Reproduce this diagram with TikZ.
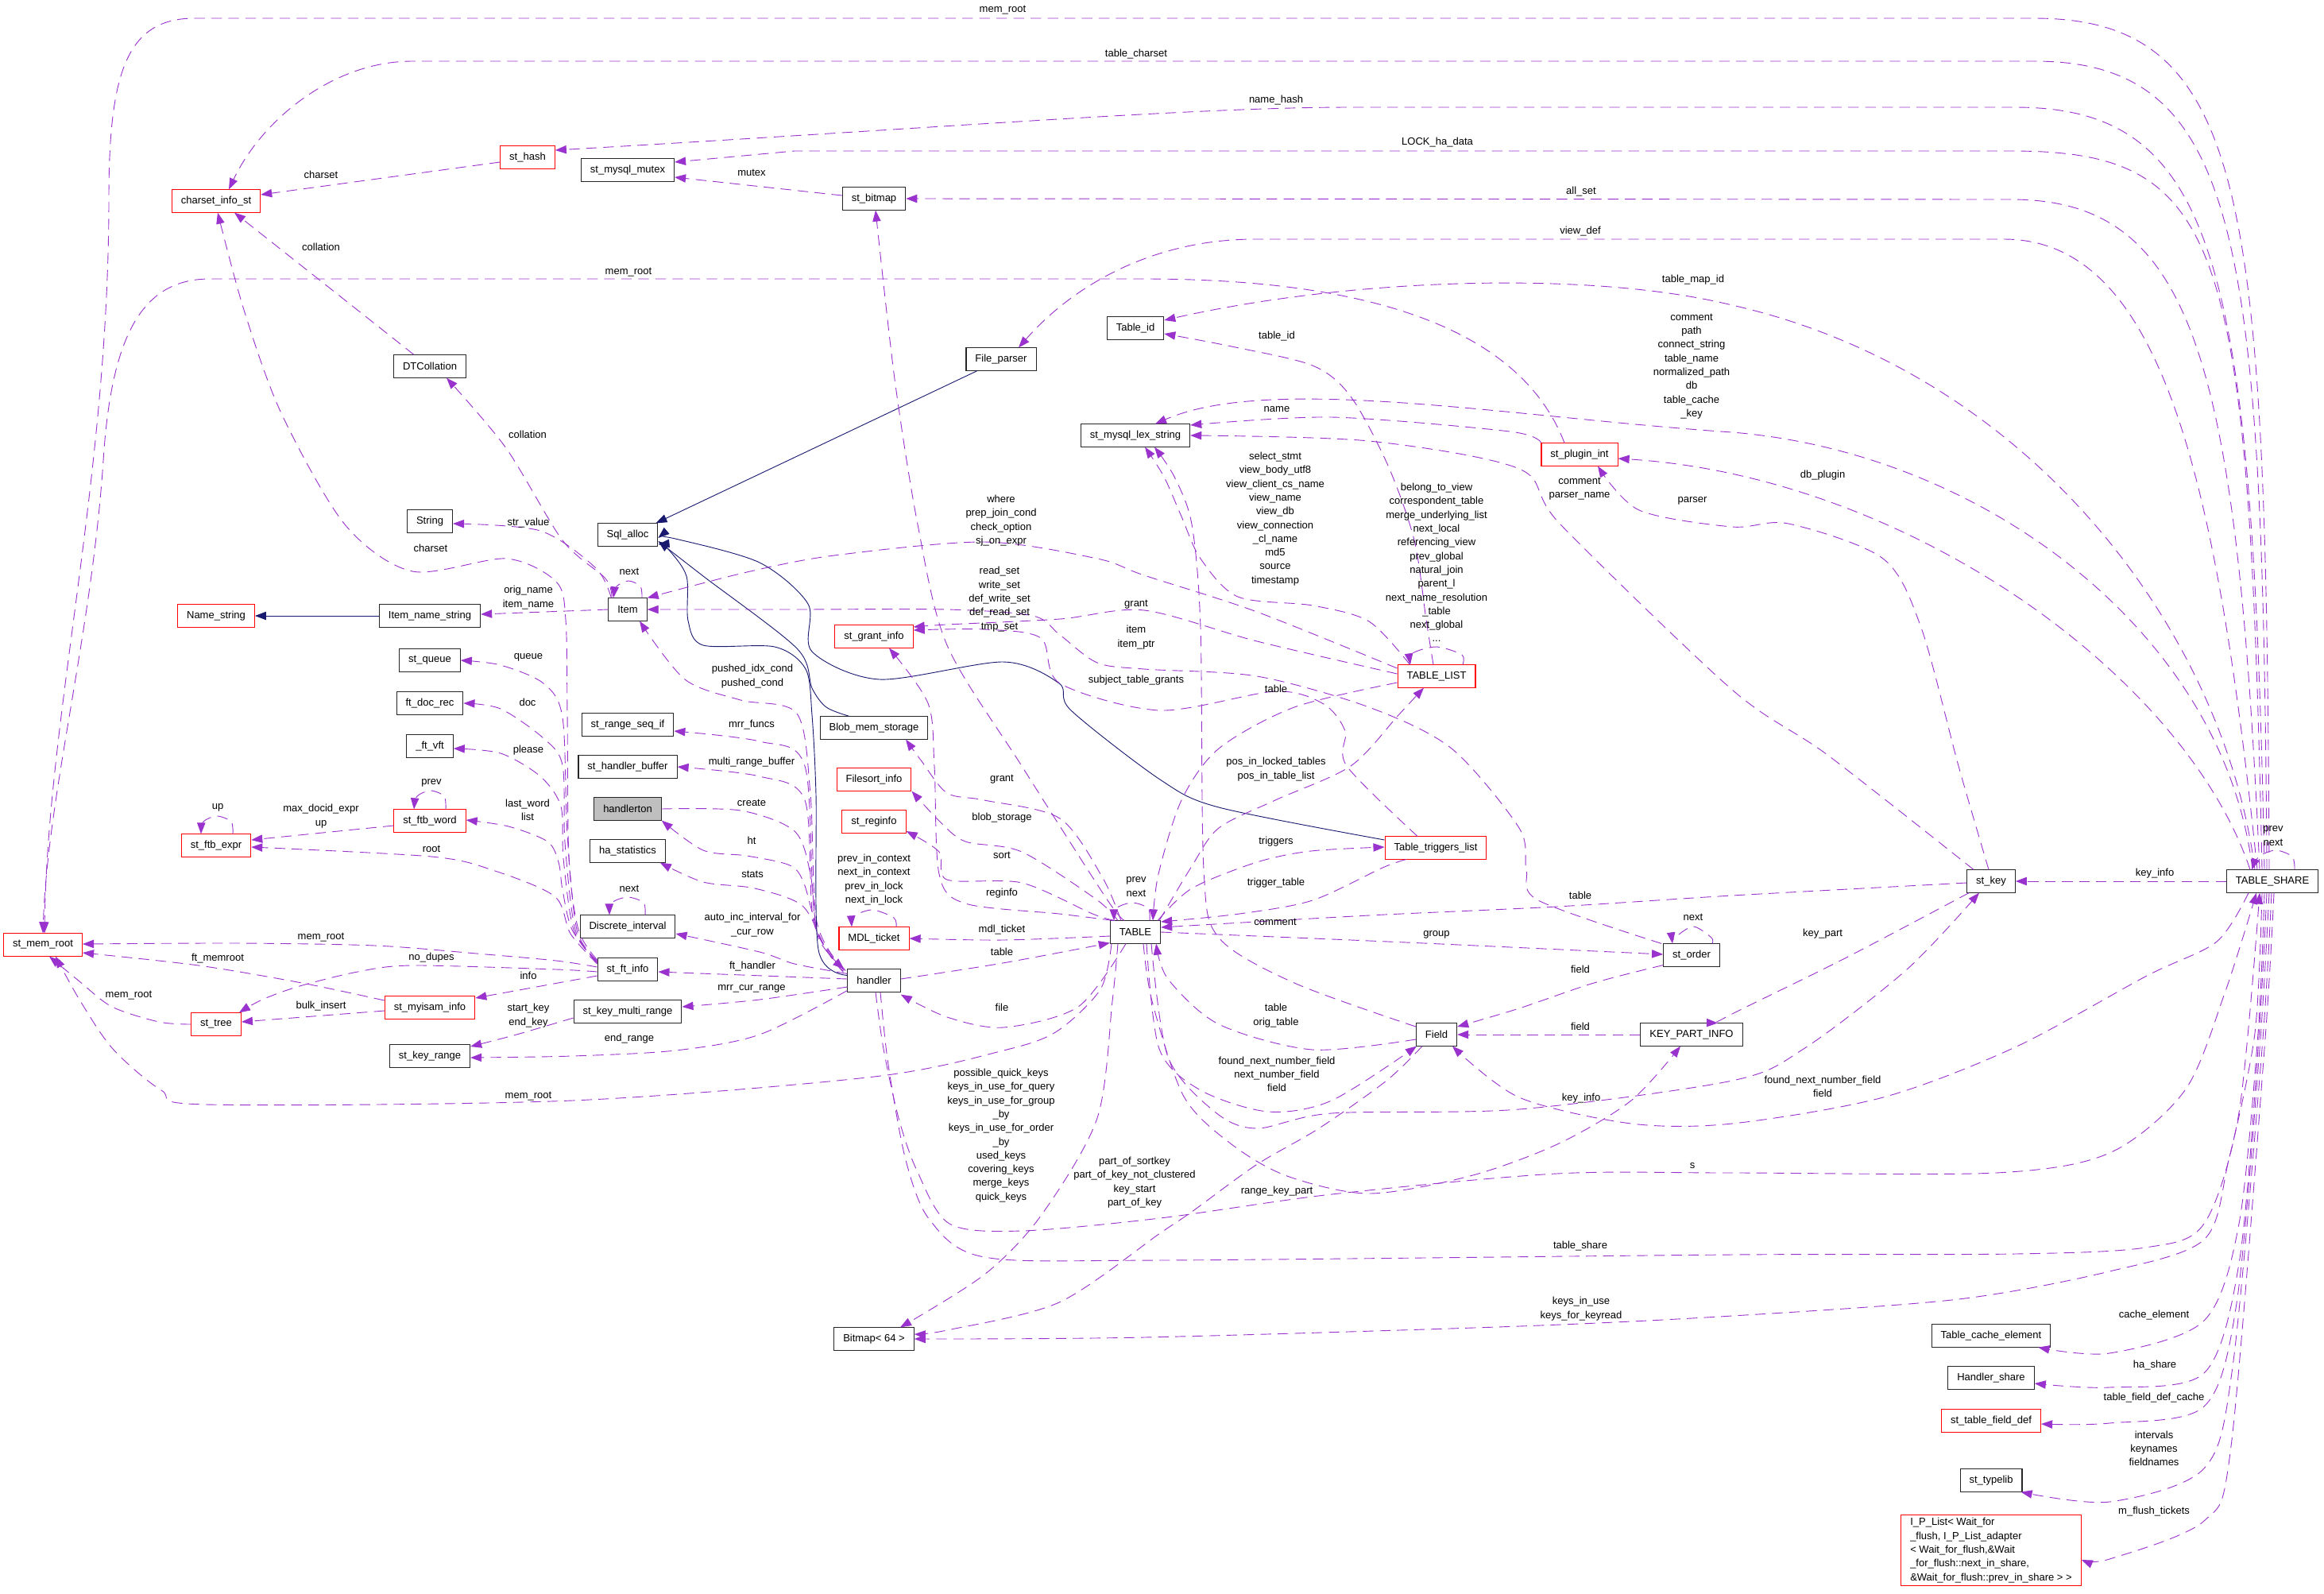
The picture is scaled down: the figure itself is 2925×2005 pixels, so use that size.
\documentclass[tikz,border=0pt]{standalone}
\usepackage{fontspec}
\setmainfont{Liberation Sans}
\usetikzlibrary{arrows.meta,calc}
\definecolor{usecol}{HTML}{9A32CD}
\definecolor{inhcol}{HTML}{191970}
\definecolor{boxgray}{HTML}{BFBFBF}
\tikzset{
  cls/.style={draw=black!85, fill=white, line width=0.8pt, inner xsep=3.1mm, inner ysep=1mm, minimum height=7.6mm, font=\fontsize{10}{13.3}\selectfont},
  clsred/.style={cls, draw=red},
  lbl/.style={inner sep=0pt, align=center, font=\fontsize{10}{13.3}\selectfont},
  memb/.style={draw=usecol, line width=0.7pt, dash pattern=on 3.6mm off 2.2mm, -{Triangle[length=3.8mm,width=2.8mm]}},
  isa/.style={draw=inhcol, line width=0.7pt, -{Triangle[length=3.8mm,width=2.8mm]}},
}
\begin{document}
\begin{tikzpicture}[x=0.27mm, y=-0.27mm]
\useasboundingbox (0,0) rectangle (2925,2005);
\node[clsred] (cs) at (272,253) {charset\_info\_st};
\node[clsred] (hash) at (664,198) {st\_hash};
\node[cls] (dtc) at (541,461) {DTCollation};
\node[cls] (str) at (541,656) {String};
\node[cls] (mutex) at (790,214) {st\_mysql\_mutex};
\node[cls] (bitmap) at (1100,250) {st\_bitmap};
\node[cls] (fparser) at (1260,452) {File\_parser};
\node[cls] (tid) at (1429,413) {Table\_id};
\node[cls] (lex) at (1429,548) {st\_mysql\_lex\_string};
\node[clsred] (plugin) at (1988,572) {st\_plugin\_int};
\node[cls] (sqla) at (790,673) {Sql\_alloc};
\node[clsred] (namestr) at (272,775) {Name\_string};
\node[cls] (ins) at (541,775) {Item\_name\_string};
\node[cls] (item) at (790,767) {Item};
\node[clsred] (grant) at (1100,801) {st\_grant\_info};
\node[clsred] (tlist) at (1808,851) {TABLE\_LIST};
\node[cls] (queue) at (541,831) {st\_queue};
\node[cls] (docrec) at (541,885) {ft\_doc\_rec};
\node[cls] (vft) at (541,939) {\_ft\_vft};
\node[cls] (seqif) at (790,912) {st\_range\_seq\_if};
\node[cls] (blob) at (1100,916) {Blob\_mem\_storage};
\node[cls] (hbuf) at (790,965) {st\_handler\_buffer};
\node[clsred] (fsort) at (1100,981) {Filesort\_info};
\node[cls, fill=boxgray] (hton) at (790,1018) {handlerton};
\node[clsred] (reginfo) at (1100,1034) {st\_reginfo};
\node[clsred] (ftbword) at (541,1033) {st\_ftb\_word};
\node[clsred] (ftbexpr) at (272,1064) {st\_ftb\_expr};
\node[cls] (hastat) at (790,1071) {ha\_statistics};
\node[clsred] (trig) at (1807,1067) {Table\_triggers\_list};
\node[cls] (dint) at (790,1166) {Discrete\_interval};
\node[clsred] (mdl) at (1100,1181) {MDL\_ticket};
\node[cls] (tbl) at (1429,1173) {TABLE};
\node[cls] (stkey) at (2506,1109) {st\_key};
\node[cls] (share) at (2860,1109) {TABLE\_SHARE};
\node[cls] (order) at (2129,1202) {st\_order};
\node[clsred] (memroot) at (54,1189) {st\_mem\_root};
\node[cls] (ftinfo) at (790,1220) {st\_ft\_info};
\node[cls] (handler) at (1100,1234) {handler};
\node[clsred] (myisam) at (541,1268) {st\_myisam\_info};
\node[clsred] (tree) at (272,1289) {st\_tree};
\node[cls] (kmr) at (790,1273) {st\_key\_multi\_range};
\node[cls] (field) at (1808,1302) {Field};
\node[cls] (kpi) at (2129,1302) {KEY\_PART\_INFO};
\node[cls] (krange) at (541,1329) {st\_key\_range};
\node[cls] (bmp) at (1100,1685) {Bitmap< 64 >};
\node[cls] (tce) at (2506,1681) {Table\_cache\_element};
\node[cls] (hshare) at (2506,1734) {Handler\_share};
\node[clsred] (tfd) at (2506,1788) {st\_table\_field\_def};
\node[cls] (typelib) at (2506,1863) {st\_typelib};
\node[clsred, align=left] (iplist) at (2506,1951) {I\_P\_List< Wait\_for\\\_flush, I\_P\_List\_adapter\\< Wait\_for\_flush,\&Wait\\\_for\_flush::next\_in\_share,\\\&Wait\_for\_flush::prev\_in\_share > >};

\draw[memb] ($(share.north)+(-4,0)$) .. controls (2852,250) and (2830,23) .. (2560,23) -- (245,23) .. controls (160,23) and (137,90) .. (137,250) .. controls (137,600) and (60,900) .. ($(memroot.north)+(2,0)$);
\draw[memb] ($(share.north)+(-7,0)$) .. controls (2848,300) and (2820,77) .. (2560,77) -- (519,77) .. controls (420,77) and (330,150) .. ($(cs.north)+(16,0)$);
\draw[memb] ($(share.north)+(-10,0)$) .. controls (2835,330) and (2790,135) .. (2536,135) -- (1700,135) .. controls (1500,135) and (1200,160) .. ($(hash.east)+(0,-9)$);
\draw[memb] ($(share.north)+(-13,0)$) .. controls (2830,300) and (2800,190) .. (2531,190) -- (1000,190) -- ($(mutex.east)+(0,-10)$);
\draw[memb] ($(share.north)+(-16,0)$) .. controls (2815,450) and (2760,251) .. (2531,251) -- (bitmap.east);
\draw[memb] ($(share.north)+(-19,0)$) .. controls (2790,600) and (2720,301) .. (2522,301) -- (1580,301) .. controls (1450,301) and (1350,360) .. ($(fparser.north)+(22,0)$);
\draw[memb] ($(share.north)+(-22,0)$) .. controls (2800,800) and (2560,470) .. (2180,384) .. controls (2000,340) and (1700,350) .. ($(tid.east)+(0,-10)$);
\draw[memb] ($(share.north)+(-25,0)$) .. controls (2800,800) and (2500,570) .. (2180,544) .. controls (1900,525) and (1600,470) .. ($(lex.north)+(25,0)$);
\draw[memb] ($(share.north)+(-28,0)$) .. controls (2750,850) and (2400,600) .. ($(plugin.east)+(0,5)$);
\draw[memb] plot[smooth] coordinates {($(share.north)+(28,0)$) (2885,1078) (2864,1070) (2843,1078) ($(share.north)+(-26,0)$)};
\draw[memb] (share) -- (stkey);
\draw[memb] plot[smooth] coordinates {($(share.south)+(-30,0)$) (2790,1185) (2702,1228) (2536,1318) (2370,1381) (2180,1414) (2053,1414) (1912,1381) ($(field.south)+(20,0)$)};
\draw[memb] plot[smooth] coordinates {($(share.south)+(-10,0)$) (2842,1300) (2818,1540) (2774,1662) (2655,1703) ($(tce.south east)+(-16,0)$)};
\draw[memb] plot[smooth] coordinates {($(share.south)+(-7,0)$) (2842,1320) (2818,1590) (2774,1728) (2655,1746) ($(hshare.east)+(0,7)$)};
\draw[memb] plot[smooth] coordinates {($(share.south)+(-4,0)$) (2844,1320) (2815,1640) (2774,1770) (2655,1791) ($(tfd.east)+(0,4)$)};
\draw[memb] plot[smooth] coordinates {($(share.south)+(-1,0)$) (2847,1320) (2810,1720) (2774,1848) (2655,1890) ($(typelib.south east)+(-2,0)$)};
\draw[memb] plot[smooth] coordinates {($(share.south)+(2,0)$) (2850,1320) (2808,1820) (2774,1914) (2655,1962) ($(iplist.east)+(0,12)$)};
\draw[memb] plot[smooth] coordinates {($(share.south)+(-13,0)$) (2838,1300) (2805,1460) (2774,1560) (2655,1600) (2465,1635) (2180,1656) (1912,1669) (1440,1683) (bmp.east)};
\draw[memb] plot[smooth] coordinates {($(handler.south)+(8,0)$) (1118,1340) (1140,1460) (1170,1535) (1239,1582) (1460,1586) (2180,1579) (2536,1578) (2700,1570) (2774,1540) (2818,1400) ($(share.south)+(-16,0)$)};
\draw[memb] plot[smooth] coordinates {($(handler.south)+(2,0)$) (1112,1320) (1131,1407) (1154,1473) (1195,1540) (1286,1549) (1460,1533) (1676,1503) (1959,1477) (2180,1476) (2512,1476) (2655,1451) (2750,1372) (2800,1250) ($(share.south)+(-20,0)$)};
\draw[memb] plot[smooth] coordinates {($(tbl.south)+(10,0)$) (1450,1260) (1490,1380) (1550,1440) (1620,1480) (1723,1502) (1850,1480) (1960,1440) (2053,1385) ($(kpi.south)+(-14,0)$)};
\draw[memb] plot[smooth] coordinates {($(field.south)+(-18,0)$) (1745,1360) (1660,1420) (1581,1466) (1500,1525) (1460,1552) (1333,1639) (1192,1674) ($(bmp.east)+(0,-6)$)};
\draw[memb] plot[smooth] coordinates {($(tbl.south)+(-22,0)$) (1400,1260) (1381,1407) (1310,1530) (1239,1604) ($(bmp.north)+(33,0)$)};
\draw[memb] plot[smooth] coordinates {($(tbl.south)+(-30,0)$) (1385,1245) (1330,1298) (1263,1322) (1100,1355) (720,1385) (260,1390) (203,1372) (142,1320) (100,1258) ($(memroot.south)+(16,0)$)};
\draw[memb] plot[smooth] coordinates {($(tbl.south)+(14,0)$) (1459,1320) (1511,1372) (1596,1399) (1676,1385) ($(field.south)+(-25,0)$)};
\draw[memb] plot[smooth] coordinates {($(tbl.south)+(20,0)$) (1470,1330) (1530,1400) (1582,1420) (1676,1401) (1912,1396) (2180,1360) (2270,1320) (2400,1220) ($(stkey.south)+(-15,0)$)};
\draw[memb] plot[smooth] coordinates {($(stkey.west)+(0,2)$) (2180,1127) (1959,1141) (1723,1152) ($(tbl.east)+(0,-6)$)};
\draw[memb] plot[smooth] coordinates {($(stkey.south west)+(3,0)$) (2322,1206) (2180,1276) ($(kpi.north)+(33,0)$)};
\draw[memb] plot[smooth] coordinates {($(stkey.north)+(-3,0)$) (2465,964) (2418,790) (2370,703) (2251,659) (2180,663) (2063,642) ($(plugin.south)+(23,0)$)};
\draw[memb] plot[smooth] coordinates {($(stkey.north)+(-22,0)$) (2300,950) (2180,868) (1964,660) (1912,590) (1723,555) (lex.east)};
\draw[memb] plot[smooth] coordinates {($(plugin.west)+(0,-15)$) (1900,543) (1676,525) ($(lex.east)+(0,-13)$)};
\draw[memb] ($(plugin.north)+(-19,0)$) .. controls (1920,430) and (1760,351) .. (1440,351) -- (264,351) .. controls (180,351) and (140,420) .. (130,580) .. controls (115,800) and (60,1000) .. (memroot.north);
\draw[memb] ($(hash.west)+(0,6)$) -- ($(cs.east)+(0,-8)$);
\draw[memb] ($(bitmap.west)+(0,-4)$) -- ($(mutex.east)+(0,9)$);
\draw[memb] ($(dtc.north)+(-20,0)$) -- ($(cs.south)+(23,0)$);
\draw[memb] plot[smooth] coordinates {($(item.north)+(-20,0)$) (762,728) (708,680) (637,564) ($(dtc.south)+(21,0)$)};
\draw[memb] plot[smooth] coordinates {($(item.north west)+(4,0)$) (750,715) (680,668) ($(str.east)+(0,3)$)};
\draw[memb] plot[smooth] coordinates {($(ftinfo.west)+(0,-12)$) (728,1170) (716,1080) (714,900) (712,780) (700,732) (637,703) (519,719) (434,660) (354,520) (307,390) ($(cs.south)+(2,0)$)};
\draw[memb] plot[smooth] coordinates {($(ftinfo.west)+(0,-11)$) (726,1170) (714,1050) (708,903) (684,860) (630,837) (queue.east)};
\draw[memb] plot[smooth] coordinates {($(ftinfo.west)+(0,-10)$) (724,1170) (711,1060) (708,963) (684,929) (630,892) (docrec.east)};
\draw[memb] plot[smooth] coordinates {($(ftinfo.west)+(0,-9)$) (722,1170) (709,1080) (706,1015) (680,977) (630,948) ($(vft.east)+(0,3)$)};
\draw[memb] plot[smooth] coordinates {($(ftinfo.west)+(0,-8)$) (720,1170) (708,1120) (703,1085) (689,1059) (640,1040) ($(ftbword.east)+(0,-1)$)};
\draw[memb] plot[smooth] coordinates {($(ftinfo.west)+(0,-7)$) (718,1175) (698,1128) (620,1095) (543,1078) ($(ftbexpr.east)+(0,2)$)};
\draw[memb] ($(ftbword.west)+(0,6)$) -- ($(ftbexpr.east)+(0,-7)$);
\draw[memb] plot[smooth] coordinates {($(ftbword.north)+(20,0)$) (559,1002) (542,995) (525,1002) ($(ftbword.north)+(-20,0)$)};
\draw[memb] plot[smooth] coordinates {($(ftbexpr.north)+(21,0)$) (291,1034) (273,1027) (256,1034) ($(ftbexpr.north)+(-19,0)$)};
\draw[memb] plot[smooth] coordinates {($(ftinfo.west)+(0,-3)$) (700,1209) (600,1200) (472,1190) (300,1187) ($(memroot.east)+(0,-1)$)};
\draw[memb] plot[smooth] coordinates {($(myisam.west)+(0,-9)$) (380,1237) (250,1215) ($(memroot.east)+(0,10)$)};
\draw[memb] plot[smooth] coordinates {($(ftinfo.west)+(0,3)$) (700,1220) (519,1215) (450,1223) (377,1241) (330,1258) ($(tree.north east)+(-3,0)$)};
\draw[memb] ($(ftinfo.west)+(0,8)$) -- ($(myisam.east)+(0,-12)$);
\draw[memb] ($(myisam.west)+(0,4)$) -- ($(tree.east)+(0,-3)$);
\draw[memb] plot[smooth] coordinates {(tree.west) (200,1286) (141,1267) (100,1235) ($(memroot.south)+(8,0)$)};
\draw[memb] plot[smooth] coordinates {($(kmr.west)+(0,8)$) (650,1302) ($(krange.east)+(0,-12)$)};
\draw[memb] plot[smooth] coordinates {($(handler.south west)+(0,-2)$) (956,1302) (850,1322) (720,1329) ($(krange.east)+(0,2)$)};
\draw[memb] plot[smooth] coordinates {($(handler.west)+(0,8)$) (956,1258) ($(kmr.east)+(0,-6)$)};
\draw[memb] ($(handler.west)+(0,-2)$) -- ($(ftinfo.east)+(0,3)$);
\draw[memb] plot[smooth] coordinates {($(handler.north west)+(0,6)$) (1000,1213) (956,1198) ($(dint.east)+(0,9)$)};
\draw[memb] plot[smooth] coordinates {($(dint.north)+(22,0)$) (810,1136) (790,1129) (770,1136) ($(dint.north)+(-23,0)$)};
\draw[memb] plot[smooth] coordinates {($(handler.north west)+(-2,2)$) (1040,1195) (1010,1140) (950,1118) (885,1110) ($(hastat.south east)+(-7,0)$)};
\draw[memb] plot[smooth] coordinates {($(handler.north west)+(-3,1)$) (1032,1180) (1012,1112) (994,1089) (940,1077) (885,1070) (hton.south east)};
\draw[memb] plot[smooth] coordinates {(hton.east) (932,1020) (1000,1046) (1020,1100) (1030,1180) ($(handler.north west)+(-4,0)$)};
\draw[memb] plot[smooth] coordinates {($(handler.north west)+(-4,2)$) (1028,1160) (1020,1000) (1003,898) (932,881) (862,855) ($(item.south)+(15,0)$)};
\draw[memb] plot[smooth] coordinates {($(handler.north west)+(-5,3)$) (1026,1160) (1013,964) (956,933) ($(seqif.east)+(0,8)$)};
\draw[memb] plot[smooth] coordinates {($(handler.north west)+(-5,4)$) (1024,1160) (1013,1007) (956,977) (hbuf.east)};
\draw[isa] ($(fparser.south)+(-30,0)$) -- ($(sqla.north east)+(-3,0)$);
\draw[isa] plot[smooth] coordinates {($(blob.north)+(-31,0)$) (1040,890) (1022,866) (1003,816) (885,725) ($(sqla.east)+(0,8)$)};
\draw[isa] plot[smooth] coordinates {($(handler.north west)+(0,8)$) (1030,1195) (1027,1000) (1022,900) (1014,842) (975,814) (885,812) (866,781) (864,725) (840,690) ($(sqla.east)+(0,12)$)};
\draw[isa] plot[smooth] coordinates {($(trig.west)+(0,-10)$) (1534,1016) (1460,981) (1348,894) (1333,860) (1263,833) (1107,855) (1022,820) (1017,760) (956,708) (850,678) ($(sqla.east)+(0,4)$)};
\draw[isa] (ins) -- (namestr);
\draw[memb] (item.west) -- ($(ins.east)+(0,-2)$);
\draw[memb] plot[smooth] coordinates {($(item.north)+(18,0)$) (806,738) (791,731) (776,738) ($(item.north)+(-18,0)$)};
\draw[memb] plot[smooth] coordinates {($(tlist.west)+(0,-10)$) (1582,770) (1440,724) (1381,703) (1239,682) (1050,699) (940,720) (item.north east)};
\draw[memb] plot[smooth] coordinates {($(order.north west)+(-2,0)$) (1936,1133) (1921,1094) (1912,1042) (1827,942) (1723,890) (1582,851) (1440,842) (1381,834) (1334,799) (1300,775) (1192,767) (1000,767) (item.east)};
\draw[memb] plot[smooth] coordinates {($(tlist.west)+(0,-3)$) (1582,807) (1440,768) (1334,779) (1192,786) ($(grant.east)+(0,-12)$)};
\draw[memb] plot[smooth] coordinates {($(trig.north)+(-23,0)$) (1695,964) (1693,920) (1666,886) (1605,870) (1460,894) (1334,860) (1310,803) (1239,792) ($(grant.east)+(0,-8)$)};
\draw[memb] plot[smooth] coordinates {($(tbl.north west)+(4,0)$) (1333,1150) (1215,1137) (1182,1100) (1176,964) (1168,885) ($(grant.south)+(19,0)$)};
\draw[memb] plot[smooth] coordinates {($(tbl.north)+(-14,0)$) (1392,1130) (1286,964) (1192,812) (1155,660) (1126,477) ($(bitmap.south)+(2,0)$)};
\draw[memb] plot[smooth] coordinates {($(tbl.north west)+(14,0)$) (1388,1105) (1334,1030) (1239,1007) (1192,998) (1160,958) ($(blob.south)+(40,0)$)};
\draw[memb] plot[smooth] coordinates {($(tbl.north west)+(10,0)$) (1380,1132) (1286,1072) (1215,1059) (1182,1033) (fsort.south east)};
\draw[memb] plot[smooth] coordinates {($(tbl.north west)+(6,0)$) (1375,1150) (1286,1111) (1192,1107) (1182,1072) ($(reginfo.east)+(0,12)$)};
\draw[memb] plot[smooth] coordinates {($(tbl.west)+(0,5)$) (1262,1183) (mdl.east)};
\draw[memb] plot[smooth] coordinates {($(handler.east)+(0,-2)$) (1262,1212) ($(tbl.south west)+(0,-1)$)};
\draw[memb] plot[smooth] coordinates {($(tbl.south)+(-12,0)$) (1357,1267) (1263,1293) (1192,1280) ($(handler.south east)+(0,3)$)};
\draw[memb] plot[smooth] coordinates {($(mdl.north)+(28,0)$) (1125,1155) (1098,1145) (1075,1153) ($(mdl.north)+(-28,0)$)};
\draw[memb] plot[smooth] coordinates {($(tbl.north)+(18,0)$) (1445,1143) (1425,1136) (1405,1143) ($(tbl.north)+(-27,0)$)};
\draw[memb] plot[smooth] coordinates {($(tbl.north east)+(-4,0)$) (1500,1118) (1582,1085) (1650,1071) ($(trig.west)+(0,-1)$)};
\draw[memb] plot[smooth] coordinates {($(trig.south west)+(27,0)$) (1740,1092) (1652,1133) (1560,1150) ($(tbl.east)+(0,-13)$)};
\draw[memb] plot[smooth] coordinates {($(tbl.north east)+(-2,0)$) (1500,1090) (1534,1042) (1605,1007) (1700,964) (1760,900) ($(tlist.south)+(-16,0)$)};
\draw[memb] plot[smooth] coordinates {($(tlist.west)+(0,8)$) (1629,890) (1534,942) (1487,1007) (1458,1100) ($(tbl.north)+(22,0)$)};
\draw[memb] plot[smooth] coordinates {($(tlist.north)+(33,0)$) (1840,824) (1808,814) (1778,822) ($(tlist.north)+(-33,0)$)};
\draw[memb] plot[smooth] coordinates {($(tlist.north)+(-4,0)$) (1795,780) (1780,680) (1747,586) (1700,499) (1652,460) (1550,436) ($(tid.east)+(0,7)$)};
\draw[memb] plot[smooth] coordinates {($(tlist.north west)+(16,0)$) (1723,782) (1652,762) (1558,751) (1511,703) (1487,650) (1465,600) ($(lex.south)+(12,0)$)};
\draw[memb] plot[smooth] coordinates {($(field.west)+(0,-10)$) (1629,1237) (1534,1180) (1515,1094) (1511,790) (1500,660) (1478,600) ($(lex.south)+(24,0)$)};
\draw[memb] plot[smooth] coordinates {($(field.west)+(0,6)$) (1652,1321) (1534,1289) (1470,1232) ($(tbl.south east)+(-6,0)$)};
\draw[memb] (kpi) -- (field);
\draw[memb] plot[smooth] coordinates {($(order.south west)+(0,-2)$) (2006,1237) (1912,1269) ($(field.east)+(0,-10)$)};
\draw[memb] plot[smooth] coordinates {(tbl.east) (1770,1186) ($(order.west)+(0,-1)$)};
\draw[memb] plot[smooth] coordinates {($(order.north)+(26,0)$) (2154,1180) (2131,1166) (2108,1180) ($(order.north)+(-24,0)$)};

\node[lbl] (lb01) at (1262,13) {mem\_root};
\node[lbl] (lb02) at (1430,68) {table\_charset};
\node[lbl] (lb03) at (1606,126) {name\_hash};
\node[lbl] (lb04) at (1809,179) {LOCK\_ha\_data};
\node[lbl] (lb05) at (1990,241) {all\_set};
\node[lbl] (lb06) at (1989,291) {view\_def};
\node[lbl] (lb07) at (2131,352) {table\_map\_id};
\node[lbl] (lb08) at (2129,461) {comment\\path\\connect\_string\\table\_name\\normalized\_path\\db\\table\_cache\\\_key};
\node[lbl] (lb09) at (2294,598) {db\_plugin};
\node[lbl] (lb10) at (1607,515) {name};
\node[lbl] (lb11) at (1988,615) {comment\\parser\_name};
\node[lbl] (lb12) at (2130,630) {parser};
\node[lbl] (lb13) at (1607,423) {table\_id};
\node[lbl] (lb14) at (791,343) {mem\_root};
\node[lbl] (lb15) at (404,220) {charset};
\node[lbl] (lb16) at (946,217) {mutex};
\node[lbl] (lb17) at (404,311) {collation};
\node[lbl] (lb18) at (664,547) {collation};
\node[lbl] (lb19) at (665,658) {str\_value};
\node[lbl] (lb20) at (542,690) {charset};
\node[lbl] (lb21) at (665,752) {orig\_name\\item\_name};
\node[lbl] (lb22) at (792,719) {next};
\node[lbl] (lb23) at (1260,655) {where\\prep\_join\_cond\\check\_option\\sj\_on\_expr};
\node[lbl] (lb24) at (1605,653) {select\_stmt\\view\_body\_utf8\\view\_client\_cs\_name\\view\_name\\view\_db\\view\_connection\\\_cl\_name\\md5\\source\\timestamp};
\node[lbl] (lb25) at (1808,708) {belong\_to\_view\\correspondent\_table\\merge\_underlying\_list\\next\_local\\referencing\_view\\prev\_global\\natural\_join\\parent\_l\\next\_name\_resolution\\\_table\\next\_global\\...};
\node[lbl] (lb26) at (1258,754) {read\_set\\write\_set\\def\_write\_set\\def\_read\_set\\tmp\_set};
\node[lbl] (lb27) at (1430,761) {grant};
\node[lbl] (lb28) at (1430,802) {item\\item\_ptr};
\node[lbl] (lb29) at (1430,856) {subject\_table\_grants};
\node[lbl] (lb30) at (1606,867) {table};
\node[lbl] (lb31) at (1606,968) {pos\_in\_locked\_tables\\pos\_in\_table\_list};
\node[lbl] (lb32) at (947,851) {pushed\_idx\_cond\\pushed\_cond};
\node[lbl] (lb33) at (946,912) {mrr\_funcs};
\node[lbl] (lb34) at (946,959) {multi\_range\_buffer};
\node[lbl] (lb35) at (946,1010) {create};
\node[lbl] (lb36) at (946,1058) {ht};
\node[lbl] (lb37) at (947,1100) {stats};
\node[lbl] (lb38) at (947,1164) {auto\_inc\_interval\_for\\\_cur\_row};
\node[lbl] (lb39) at (792,1118) {next};
\node[lbl] (lb40) at (947,1216) {ft\_handler};
\node[lbl] (lb41) at (946,1244) {mrr\_cur\_range};
\node[lbl] (lb42) at (792,1307) {end\_range};
\node[lbl] (lb43) at (1261,981) {grant};
\node[lbl] (lb44) at (1261,1029) {blob\_storage};
\node[lbl] (lb45) at (1261,1076) {sort};
\node[lbl] (lb46) at (1261,1124) {reginfo};
\node[lbl] (lb47) at (1100,1107) {prev\_in\_context\\next\_in\_context\\prev\_in\_lock\\next\_in\_lock};
\node[lbl] (lb48) at (1261,1170) {mdl\_ticket};
\node[lbl] (lb49) at (1261,1198) {table};
\node[lbl] (lb50) at (1261,1268) {file};
\node[lbl] (lb51) at (1430,1116) {prev\\next};
\node[lbl] (lb52) at (1606,1059) {triggers};
\node[lbl] (lb53) at (1606,1111) {trigger\_table};
\node[lbl] (lb54) at (1605,1160) {comment};
\node[lbl] (lb55) at (1808,1176) {group};
\node[lbl] (lb56) at (1989,1127) {table};
\node[lbl] (lb57) at (2131,1154) {next};
\node[lbl] (lb58) at (1989,1220) {field};
\node[lbl] (lb59) at (1989,1292) {field};
\node[lbl] (lb60) at (1606,1278) {table\\orig\_table};
\node[lbl] (lb61) at (2294,1175) {key\_part};
\node[lbl] (lb62) at (2712,1099) {key\_info};
\node[lbl] (lb63) at (2861,1052) {prev\\next};
\node[lbl] (lb64) at (1607,1352) {found\_next\_number\_field\\next\_number\_field\\field};
\node[lbl] (lb65) at (1990,1382) {key\_info};
\node[lbl] (lb66) at (2294,1367) {found\_next\_number\_field\\field};
\node[lbl] (lb67) at (1428,1488) {part\_of\_sortkey\\part\_of\_key\_not\_clustered\\key\_start\\part\_of\_key};
\node[lbl] (lb68) at (1607,1499) {range\_key\_part};
\node[lbl] (lb69) at (2130,1467) {s};
\node[lbl] (lb70) at (1989,1568) {table\_share};
\node[lbl] (lb71) at (1260,1429) {possible\_quick\_keys\\keys\_in\_use\_for\_query\\keys\_in\_use\_for\_group\\\_by\\keys\_in\_use\_for\_order\\\_by\\used\_keys\\covering\_keys\\merge\_keys\\quick\_keys};
\node[lbl] (lb72) at (1990,1647) {keys\_in\_use\\keys\_for\_keyread};
\node[lbl] (lb73) at (2711,1655) {cache\_element};
\node[lbl] (lb74) at (2712,1718) {ha\_share};
\node[lbl] (lb75) at (2711,1759) {table\_field\_def\_cache};
\node[lbl] (lb76) at (2711,1823) {intervals\\keynames\\fieldnames};
\node[lbl] (lb77) at (2711,1902) {m\_flush\_tickets};
\node[lbl] (lb78) at (665,1380) {mem\_root};
\node[lbl] (lb79) at (665,827) {queue};
\node[lbl] (lb80) at (664,884) {doc};
\node[lbl] (lb81) at (665,944) {please};
\node[lbl] (lb82) at (664,1019) {last\_word\\list};
\node[lbl] (lb83) at (543,985) {prev};
\node[lbl] (lb84) at (404,1027) {max\_docid\_expr\\up};
\node[lbl] (lb85) at (274,1016) {up};
\node[lbl] (lb86) at (543,1068) {root};
\node[lbl] (lb87) at (404,1180) {mem\_root};
\node[lbl] (lb88) at (543,1205) {no\_dupes};
\node[lbl] (lb89) at (274,1206) {ft\_memroot};
\node[lbl] (lb90) at (665,1228) {info};
\node[lbl] (lb91) at (404,1266) {bulk\_insert};
\node[lbl] (lb92) at (162,1253) {mem\_root};
\node[lbl] (lb93) at (665,1278) {start\_key\\end\_key};
\end{tikzpicture}
\end{document}
